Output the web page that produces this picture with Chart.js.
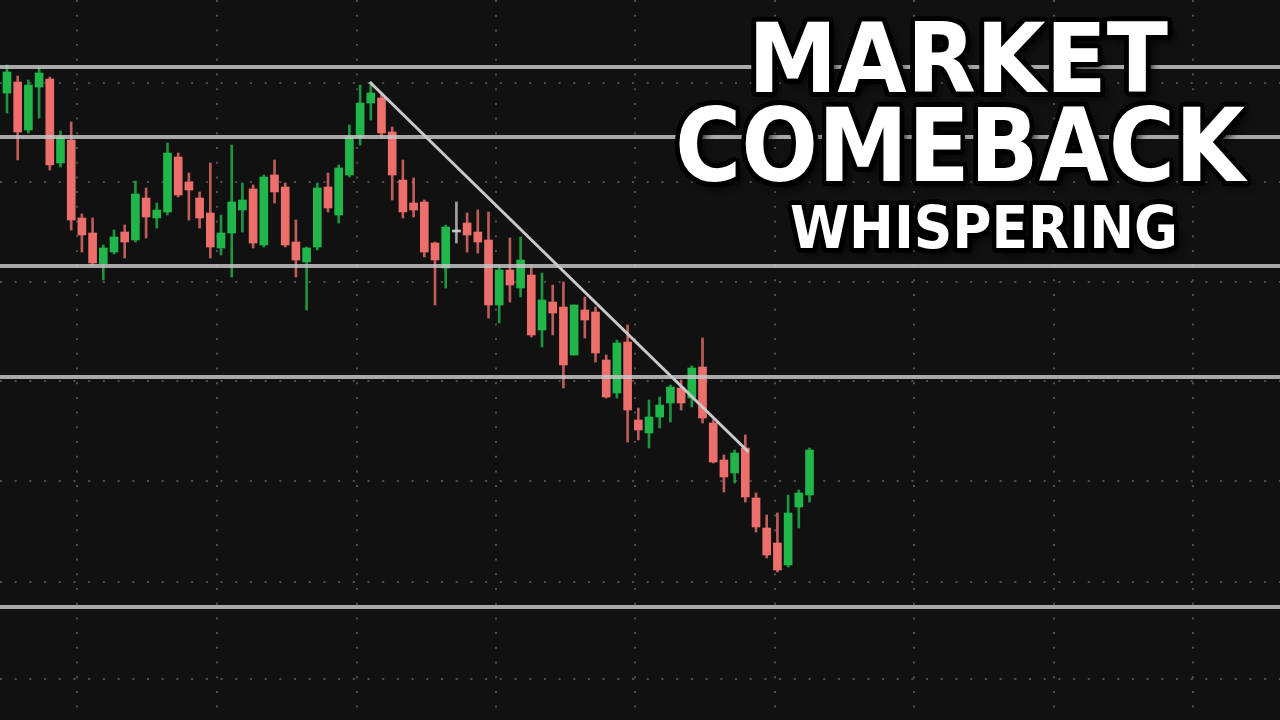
<!DOCTYPE html>
<html>
<head>
<meta charset="utf-8">
<title>Market Comeback Whispering</title>
<script src="https://cdn.jsdelivr.net/npm/chart.js@4.4.0/dist/chart.umd.min.js"></script>
<style>
  html, body { margin: 0; padding: 0; background: #111111; }
  #wrap { position: relative; width: 1280px; height: 720px; overflow: hidden; background: #111111; }
  #chartBox { position: absolute; left: 0; top: 0; width: 1280px; height: 720px; }
  .line { position: absolute; white-space: nowrap; line-height: 1; }
  .line span {
    display: inline-block;
    color: #ffffff;
    font-family: "DejaVu Sans", sans-serif;
    font-weight: bold;
    text-shadow:
      0 0 2px #000, 5px 0 0 #000, -5px 0 0 #000, 0 5px 0 #000, 0 -5px 0 #000,
      4px 4px 0 #000, -4px 4px 0 #000, 4px -4px 0 #000, -4px -4px 0 #000,
      2px 5px 0 #000, -2px 5px 0 #000, 5px 2px 0 #000, -5px 2px 0 #000,
      6px 6px 9px rgba(0,0,0,0.85);
  }
</style>
</head>
<body>
<div id="wrap">
  <div id="chartBox"><canvas id="myChart"></canvas></div>
  <div class="line" style="left:958px; top:11px;"><span style="font-size:96px; transform: translateX(-50%) scaleX(0.935);">MARKET</span></div>
  <div class="line" style="left:960px; top:96px;"><span style="font-size:101px; transform: translateX(-50%) scaleX(0.895);">COMEBACK</span></div>
  <div class="line" style="left:984px; top:198px;"><span style="font-size:59px; transform: translateX(-50%) scaleX(0.907);">WHISPERING</span></div>
</div>
<script>
// candle values (index = session)
const opens  = [627, 638, 590, 633, 641, 557, 580, 502, 487, 456, 468, 488, 480, 522, 502, 508, 563, 538, 522, 507,
                472, 487, 510, 531, 475, 545, 533, 478, 458, 473, 533, 505, 545, 583, 617, 622, 588, 540, 517, 518,
                477, 452, 488, 497, 488, 480, 415, 450, 432, 445, 390, 418, 413, 365, 410, 408, 360, 327, 378, 300,
                287, 303, 317, 332, 322, 353, 297, 260, 247, 272, 222, 192, 177, 155, 213, 225];
const highs  = [655, 644, 640, 653, 643, 589, 598, 506, 502, 475, 490, 495, 539, 532, 517, 577, 567, 547, 528, 557,
                505, 575, 537, 535, 545, 560, 537, 500, 473, 537, 547, 555, 595, 635, 638, 625, 593, 560, 542, 520,
                478, 495, 518, 507, 510, 508, 455, 482, 483, 455, 447, 435, 438, 415, 423, 413, 365, 380, 395, 312,
                320, 323, 335, 340, 354, 382, 300, 265, 270, 285, 227, 205, 207, 225, 230, 272];
const lows   = [607, 560, 587, 602, 550, 553, 490, 468, 455, 440, 466, 462, 478, 482, 492, 505, 523, 500, 492, 462,
                465, 443, 488, 472, 473, 517, 473, 443, 410, 470, 508, 497, 543, 575, 600, 583, 520, 502, 503, 463,
                415, 432, 477, 468, 467, 402, 397, 418, 423, 383, 373, 385, 332, 365, 382, 358, 322, 322, 278, 280,
                272, 292, 298, 310, 313, 297, 257, 228, 237, 218, 188, 162, 148, 153, 192, 218];
const closes = [648, 588, 635, 647, 555, 583, 500, 485, 457, 472, 483, 478, 526, 503, 510, 567, 525, 530, 502, 473,
                487, 518, 520, 477, 543, 528, 475, 460, 472, 532, 512, 552, 583, 617, 627, 587, 545, 508, 510, 468,
                460, 493, 488, 485, 478, 415, 450, 435, 460, 385, 420, 407, 355, 415, 400, 367, 323, 377, 310, 290,
                303, 315, 333, 317, 352, 302, 258, 243, 267, 223, 193, 165, 150, 207, 227, 270];

const sessions = opens.map((v, i) => i);

// horizontal levels and the falling trend line
const levels = [653, 583, 454, 343, 113];
const trendFrom = { x: 33.9, y: 638 };
const trendTo = { x: 69.3, y: 268 };

// dotted grid values
const gridX = [6.54, 19.63, 32.71, 45.70, 58.69, 71.78, 84.77, 97.85, 110.84];
const gridY = [41, 138, 239, 339, 438, 538, 637];

const UP = '#21b64a';
const DOWN = '#ec6f6c';
const FLAT = '#c8c8c8';

function candleColor(i, alpha) {
  let c = FLAT;
  if (closes[i] > opens[i]) c = UP;
  if (closes[i] < opens[i]) c = DOWN;
  if (alpha == null) return c;
  const r = parseInt(c.slice(1, 3), 16), g = parseInt(c.slice(3, 5), 16), b = parseInt(c.slice(5, 7), 16);
  return 'rgba(' + r + ',' + g + ',' + b + ',' + alpha + ')';
}

const wickData = sessions.map(i => ({ x: i, y: [lows[i], highs[i]] }));
const bodyData = sessions.map(i => ({ x: i, y: [opens[i], closes[i]] }));

const levelSets = levels.map(v => ({
  type: 'line',
  label: 'level ' + v,
  data: [{ x: -1, y: v }, { x: 120, y: v }],
  borderColor: 'rgba(196,196,196,0.85)',
  borderWidth: 4,
  pointRadius: 0,
  order: 1,
}));

const ctx = document.getElementById('myChart');
const chart = new Chart(ctx, {
  type: 'bar',
  data: {
    datasets: [
      {
        label: 'wick',
        data: wickData,
        backgroundColor: sessions.map(i => candleColor(i, 0.8)),
        barThickness: 2,
        grouped: false,
        order: 3,
      },
      {
        label: 'body',
        data: bodyData,
        backgroundColor: sessions.map(i => candleColor(i)),
        barThickness: 8,
        minBarLength: 2,
        grouped: false,
        order: 2,
      },
      ...levelSets,
      {
        type: 'line',
        label: 'trend',
        data: [trendFrom, trendTo],
        borderColor: '#c9c9c9',
        borderWidth: 3,
        pointRadius: 0,
        order: 0,
      },
    ]
  },
  options: {
    responsive: true,
    maintainAspectRatio: false,
    animation: false,
    layout: { padding: 0 },
    scales: {
      x: {
        type: 'linear',
        offset: false,
        min: -0.654,
        max: 118.97,
        ticks: { display: false },
        grid: { offset: false, color: '#505050', lineWidth: 2, drawTicks: false },
        border: { display: false, dash: [2, 12.7] },
        afterBuildTicks: (scale) => { scale.ticks = gridX.map(v => ({ value: v })); },
      },
      y: {
        type: 'linear',
        min: 0,
        max: 720,
        ticks: { display: false },
        grid: { color: '#505050', lineWidth: 2, drawTicks: false },
        border: { display: false, dash: [2, 12.7] },
        afterBuildTicks: (scale) => { scale.ticks = gridY.map(v => ({ value: v })); },
      }
    },
    plugins: {
      legend: { display: false },
      title: { display: false },
      tooltip: { enabled: false },
    }
  }
});
</script>
</body>
</html>
